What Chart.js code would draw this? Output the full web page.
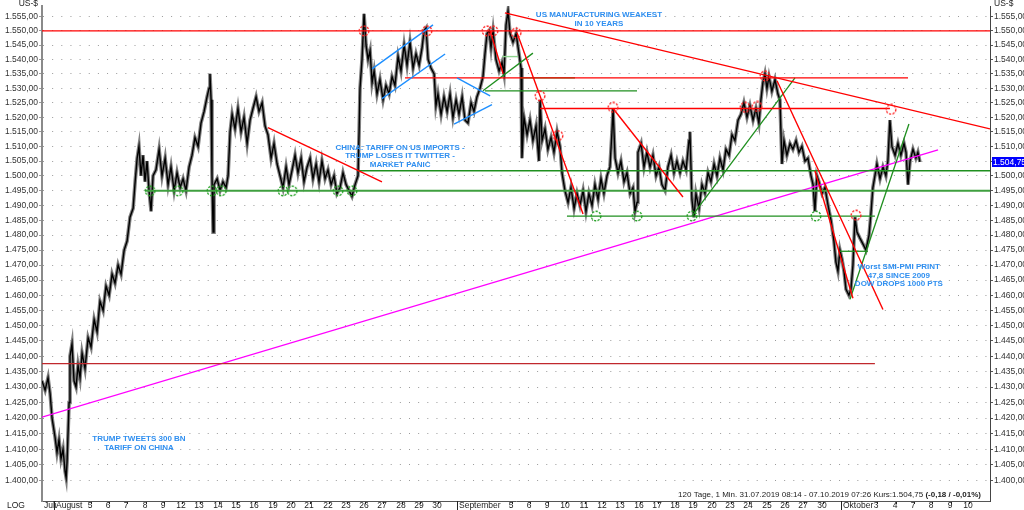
<!DOCTYPE html>
<html>
<head>
<meta charset="utf-8">
<script src="https://cdn.jsdelivr.net/npm/chart.js@4.4.1/dist/chart.umd.min.js"></script>
<style>
  html, body { margin: 0; padding: 0; background: #fff; }
</style>
</head>
<body>
<canvas id="chart" width="1024" height="510"></canvas>
<script>
// trading-day index: 0 = 1 Aug 2019, 22 = 2 Sep, 43 = 1 Oct
const priceDays = [-0.66,-0.49,-0.33,-0.22,-0.11,0.05,0.16,0.27,0.38,0.49,
  0.60,0.66,0.71,0.82,0.87,0.98,1.09,1.20,1.31,1.42,
  1.53,1.69,1.86,2.02,2.19,2.35,2.51,2.68,2.84,3.01,
  3.17,3.33,3.50,3.66,3.83,3.99,4.15,4.32,4.43,4.54,
  4.64,4.75,4.86,4.97,5.08,5.19,5.30,5.41,5.57,5.74,
  5.90,6.07,6.23,6.39,6.56,6.72,6.89,7.05,7.21,7.38,
  7.54,7.70,7.87,8.03,8.20,8.36,8.47,8.52,8.58,8.63,
  8.69,8.74,8.91,9.07,9.23,9.40,9.51,9.62,9.73,9.89,
  10.05,10.22,10.38,10.55,10.71,10.87,11.04,11.20,11.37,11.53,
  11.69,11.86,12.02,12.19,12.35,12.51,12.68,12.84,13.01,13.17,
  13.33,13.50,13.66,13.83,13.99,14.15,14.32,14.48,14.64,14.81,
  14.97,15.14,15.30,15.46,15.63,15.79,15.96,16.12,16.28,16.45,
  16.61,16.67,16.72,16.83,16.94,17.05,17.16,17.27,17.38,17.49,
  17.65,17.81,17.98,18.14,18.31,18.47,18.63,18.80,18.96,19.13,
  19.29,19.45,19.62,19.78,19.95,20.11,20.22,20.33,20.44,20.60,
  20.77,20.87,20.98,21.15,21.31,21.48,21.64,21.80,21.97,22.13,
  22.30,22.46,22.62,22.79,22.95,23.11,23.28,23.44,23.55,23.66,
  23.77,23.88,23.99,24.15,24.32,24.48,24.59,24.70,24.81,24.92,
  25.08,25.25,25.41,25.52,25.57,25.68,25.85,26.01,26.17,26.34,
  26.50,26.56,26.67,26.83,26.99,27.16,27.32,27.49,27.65,27.76,
  27.92,28.09,28.25,28.42,28.58,28.74,28.91,29.07,29.23,29.40,
  29.56,29.73,29.89,30.05,30.22,30.38,30.49,30.55,30.66,30.82,
  30.98,31.15,31.31,31.48,31.64,31.75,31.86,31.91,32.08,32.24,
  32.40,32.57,32.73,32.90,33.06,33.22,33.39,33.55,33.72,33.88,
  34.04,34.21,34.37,34.54,34.70,34.75,34.86,34.97,35.08,35.25,
  35.41,35.57,35.74,35.90,36.07,36.23,36.39,36.56,36.72,36.89,
  37.05,37.21,37.38,37.54,37.70,37.87,38.03,38.20,38.36,38.52,
  38.63,38.74,38.85,38.96,39.07,39.23,39.40,39.56,39.67,39.78,
  39.89,40.05,40.22,40.38,40.55,40.71,40.87,41.04,41.20,41.37,
  41.48,41.58,41.69,41.80,41.97,42.13,42.30,42.46,42.62,42.73,
  42.84,42.95,43.06,43.17,43.28,43.44,43.55,43.66,43.77,43.88,
  44.04,44.21,44.37,44.54,44.64,44.75,44.86,44.97,45.14,45.30,
  45.46,45.57,45.68,45.79,45.96,46.12,46.28,46.45,46.56,46.67,
  46.78,46.94,47.10,47.21,47.32];

const priceValues = [1432,1429,1433,1428,1420,1414,1409,1413,1407,1410,
  1403,1401,1406,1425,1440,1444,1432,1430,1437,1433,
  1441,1436,1446,1443,1452,1448,1458,1455,1463,1460,
  1467,1464,1470,1467,1475,1478,1486,1489,1498,1506,
  1510,1500,1507,1498,1505,1495,1488,1500,1502,1509,
  1500,1506,1497,1503,1495,1501,1496,1499,1495,1503,
  1507,1513,1510,1518,1522,1527,1530,1535,1526,1500,
  1481,1497,1499,1495,1498,1496,1500,1515,1521,1516,
  1523,1515,1520,1511,1519,1523,1527,1522,1525,1517,
  1514,1506,1511,1504,1500,1496,1503,1497,1502,1507,
  1501,1506,1498,1503,1506,1499,1504,1498,1505,1499,
  1502,1497,1500,1494,1496,1501,1497,1495,1493,1497,
  1500,1515,1530,1540,1556,1545,1540,1543,1532,1536,
  1528,1533,1526,1531,1528,1534,1531,1541,1536,1545,
  1538,1546,1537,1542,1538,1544,1550,1551,1540,1537,
  1535,1524,1528,1521,1527,1522,1528,1520,1526,1521,
  1527,1519,1518,1525,1522,1527,1530,1534,1542,1549,
  1550,1544,1550,1540,1536,1539,1535,1552,1557,1549,
  1546,1549,1542,1537,1506,1520,1514,1519,1512,1517,
  1505,1526,1512,1516,1509,1513,1508,1515,1510,1501,
  1495,1491,1496,1489,1494,1490,1495,1488,1494,1490,
  1497,1492,1499,1494,1500,1503,1515,1523,1506,1501,
  1505,1498,1501,1494,1496,1488,1491,1508,1511,1503,
  1508,1503,1507,1500,1503,1497,1495,1503,1507,1501,
  1505,1501,1505,1502,1512,1515,1492,1486,1494,1489,
  1497,1494,1501,1498,1504,1500,1506,1502,1509,1507,
  1514,1512,1519,1521,1525,1520,1524,1519,1523,1518,
  1526,1532,1535,1530,1534,1529,1533,1528,1526,1504,
  1512,1507,1511,1509,1512,1508,1510,1505,1506,1500,
  1497,1488,1500,1498,1494,1496,1490,1485,1478,1471,
  1468,1475,1472,1468,1462,1460,1462,1470,1486,1481,
  1479,1477,1475,1480,1487,1496,1500,1504,1499,1503,
  1500,1505,1519,1510,1507,1511,1507,1511,1508,1497,
  1505,1509,1506,1508,1504.75];

const lastPrice = 1504.75;

const yTicks = [1400,1405,1410,1415,1420,1425,1430,1435,1440,1445,1450,1455,1460,1465,1470,
  1475,1480,1485,1490,1495,1500,1505,1510,1515,1520,1525,1530,1535,1540,1545,1550,1555];

const xLabelDays = [-0.66,0,2,3,4,5,6,7,8,9,10,11,12,13,14,15,16,17,18,19,20,21,
  22,25,26,27,28,29,30,31,32,33,34,35,36,37,38,39,40,41,42,
  43,45,46,47,48,49,50];
const xLabelText = ['Juli','August','5','6','7','8','9','12','13','14','15','16','19','20','21','22','23','26','27','28','29','30',
  'September','5','6','9','10','11','12','13','16','17','18','19','20','23','24','25','26','27','30',
  'Oktober','3','4','7','8','9','10'];

// drawn lines: [day1, price1, day2, price2]
const redLines = [
  [-0.66,1550,51.15,1550],
  [19.18,1533.6,46.67,1533.6],
  [26.56,1523,45.68,1523],
  [24.64,1556.3,51.15,1516.0],
  [11.69,1516.4,17.92,1497.9],
  [25.30,1549.3,28.91,1487.1],
  [23.83,1550,24.54,1535],
  [30.55,1523,34.37,1492.8],
  [39.51,1532.6,45.30,1455.3],
  [41.58,1501.7,43.66,1459.0]
];
const darkRedLines = [[-0.66,1437.6,44.86,1437.6]];
const supportLine = [[4.97,1494.9,51.15,1494.9]];
const greenLines = [
  [16.61,1501.7,51.15,1501.7],
  [28.03,1486.4,44.86,1486.4],
  [23.55,1529.1,31.86,1529.1],
  [25.46,1533.6,28.47,1533.6],
  [23.44,1529.1,26.17,1542.2],
  [34.86,1486.4,40.49,1533.6],
  [43.50,1458.7,46.72,1517.7],
  [42.95,1474.6,44.48,1474.6]
];
const lightGreenLines = [[24.48,1541.0,25.36,1541.0]];
const blueLines = [
  [17.38,1536.7,20.71,1552.1],
  [17.92,1526.4,21.37,1541.9],
  [22.02,1533.6,23.83,1527.4],
  [21.86,1517.6,23.93,1524.3]
];
const magentaLines = [[-0.66,1420.3,48.31,1508.8]];

const redMarkDays = [16.94,20.38,23.66,23.99,25.25,26.56,27.54,30.55,37.76,38.42,38.85,45.74,43.83];
const redMarkValues = [1550,1550,1550,1550,1549.3,1527.4,1513.7,1523.4,1523.4,1523.7,1534.3,1522.7,1486.7];
const greenMarkDays = [5.25,6.78,8.63,9.13,12.51,13.01,15.52,16.28,29.62,31.86,34.86,41.64];
const greenMarkValues = [1494.9,1494.9,1494.9,1494.9,1494.9,1494.9,1494.9,1494.9,1486.4,1486.4,1486.4,1486.4];

const notes = [
  { day: 29.78, value: 1555.6, lines: ['US MANUFACTURING WEAKEST', 'IN 10 YEARS'] },
  { day: 18.91, value: 1509.6, lines: ['CHINA: TARIFF ON US IMPORTS -', 'TRUMP LOSES IT TWITTER -', 'MARKET PANIC'] },
  { day: 46.17, value: 1469.4, lines: ['Worst SMI-PMI PRINT', '47,8 SINCE 2009', 'DOW DROPS 1000 PTS'] },
  { day: 4.64, value: 1413.3, lines: ['TRUMP TWEETS 300 BN', 'TARIFF ON CHINA'] }
];

const FONT = '"Liberation Sans", Arial, sans-serif';

function fmt(v) {
  const parts = v.toFixed(2).split('.');
  return parts[0].replace(/\B(?=(\d{3})+(?!\d))/g, '.') + ',' + parts[1];
}

function ring(color) {
  const c = document.createElement('canvas');
  c.width = 12; c.height = 12;
  const g = c.getContext('2d');
  g.strokeStyle = color;
  g.lineWidth = 1.4;
  g.setLineDash([2.2, 1.4]);
  g.beginPath();
  g.arc(6, 6, 4.8, 0, Math.PI * 2);
  g.stroke();
  return c;
}

function segs(list, color, width) {
  return list.map((s) => ({
    type: 'line',
    data: [{ x: s[0], y: s[1] }, { x: s[2], y: s[3] }],
    borderColor: color,
    borderWidth: width,
    pointRadius: 0,
  }));
}

const priceData = priceDays.map((d, i) => ({ x: d, y: priceValues[i] }));

const datasets = [
  {
    type: 'scatter',
    data: redMarkDays.map((d, i) => ({ x: d, y: redMarkValues[i] })),
    pointStyle: ring('#ff2020'),
    pointRadius: 5,
  },
  {
    type: 'scatter',
    data: greenMarkDays.map((d, i) => ({ x: d, y: greenMarkValues[i] })),
    pointStyle: ring('#22a022'),
    pointRadius: 5,
  },
  ...segs(blueLines, '#1e8fff', 1.4),
  ...segs(redLines, '#ff0000', 1.4),
  ...segs(darkRedLines, '#c0282d', 1.3),
  ...segs(greenLines, '#1f8f1f', 1.3),
  ...segs(lightGreenLines, '#8fd48f', 1.4),
  ...segs(supportLine, '#3f9f3f', 2),
  ...segs(magentaLines, '#ff00ff', 1.4),
  {
    type: 'line',
    data: priceData,
    borderColor: '#000',
    borderWidth: 1.4,
    pointRadius: 0,
    tension: 0,
  },
  {
    type: 'line',
    data: priceData,
    borderColor: '#808080',
    borderWidth: 3.6,
    pointRadius: 0,
    tension: 0,
  },
];

const overlay = {
  id: 'overlay',
  afterDraw(chart) {
    const { ctx, chartArea } = chart;
    const x = chart.scales.x;
    const y = chart.scales.y;
    const bottom = chartArea.bottom;
    ctx.save();

    // date axis
    ctx.font = '8.5px ' + FONT;
    ctx.fillStyle = '#222';
    ctx.textBaseline = 'middle';
    xLabelDays.forEach((d, i) => {
      const px = Math.round(x.getPixelForValue(d));
      const txt = xLabelText[i];
      if (/^\d+$/.test(txt)) {
        ctx.textAlign = 'center';
        ctx.fillRect(px, bottom + 1, 1, 2);
        ctx.fillText(txt, px - 1, bottom + 5);
      } else {
        ctx.textAlign = 'left';
        if (i > 0) ctx.fillRect(px, bottom, 1, 9);
        ctx.fillText(txt, px + 2, bottom + 5);
      }
    });
    ctx.textAlign = 'center';
    ctx.fillText('LOG', 16, bottom + 5);

    // currency captions
    ctx.textAlign = 'right';
    ctx.fillText('US-$', 38, 4);
    ctx.textAlign = 'left';
    ctx.fillText('US-$', chartArea.right + 4, 4);

    // info line
    const boldPart = '(-0,18 / -0,01%)';
    const plainPart = '120 Tage, 1 Min. 31.07.2019 08:14 - 07.10.2019 07:26 Kurs:1.504,75 ';
    ctx.textAlign = 'right';
    ctx.font = 'bold 8px ' + FONT;
    const bw = ctx.measureText(boldPart).width;
    ctx.fillText(boldPart, 981, bottom - 6);
    ctx.font = '8px ' + FONT;
    ctx.fillText(plainPart, 981 - bw, bottom - 6);

    // notes
    ctx.fillStyle = '#2f8ff0';
    ctx.font = 'bold 8px "Liberation Sans Narrow", ' + FONT;
    ctx.textAlign = 'center';
    notes.forEach((n) => {
      const nx = x.getPixelForValue(n.day);
      const ny = y.getPixelForValue(n.value);
      n.lines.forEach((line, i) => ctx.fillText(line, nx, ny + i * 8.5));
    });

    // last price box
    const py = Math.round(y.getPixelForValue(lastPrice));
    ctx.fillStyle = '#0000ff';
    ctx.fillRect(chartArea.right + 2, py - 5, 34, 10);
    ctx.fillStyle = '#fff';
    ctx.font = '8.5px ' + FONT;
    ctx.textAlign = 'left';
    ctx.fillText(fmt(lastPrice), chartArea.right + 3, py + 0.5);

    ctx.restore();
  },
};

const yBase = {
  type: 'logarithmic',
  min: 1393.6,
  max: 1558.7,
  bounds: 'data',
  afterBuildTicks(scale) {
    scale.ticks = yTicks.map((v) => ({ value: v }));
  },
  ticks: {
    autoSkip: false,
    padding: 1,
    color: '#333',
    font: { family: FONT, size: 8.5 },
    callback: (v) => fmt(v),
  },
};

new Chart(document.getElementById('chart'), {
  type: 'line',
  data: { datasets },
  options: {
    responsive: false,
    animation: false,
    events: [],
    layout: { padding: { top: 2, left: 0, right: 0, bottom: 0 } },
    plugins: { legend: { display: false }, tooltip: { enabled: false } },
    scales: {
      x: {
        type: 'linear',
        min: -0.66,
        max: 51.15,
        ticks: { display: false },
        grid: { display: false },
        border: { display: true, color: '#555', width: 1 },
        afterFit(s) { s.height = 9; },
      },
      y: {
        ...yBase,
        position: 'left',
        grid: { color: '#9a9a9a', tickLength: 3, drawOnChartArea: true },
        border: { color: '#8a8a8a', width: 2, dash: [1, 8.15] },
        afterFit(s) { s.width = 42; },
      },
      y2: {
        ...yBase,
        position: 'right',
        grid: { color: '#555', tickLength: 3, drawOnChartArea: false },
        border: { color: '#444', width: 1 },
        afterFit(s) { s.width = 34; },
      },
    },
  },
  plugins: [overlay],
});
</script>
</body>
</html>
